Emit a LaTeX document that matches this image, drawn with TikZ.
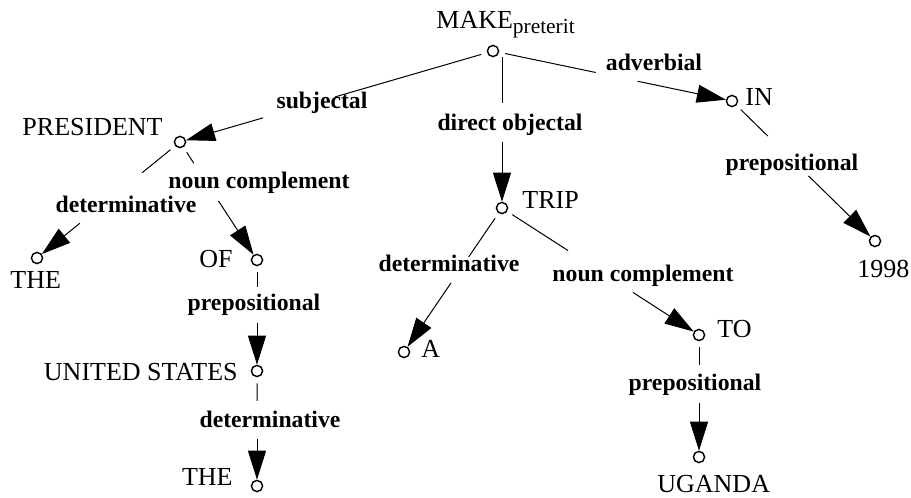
\documentclass[tikz,border=0pt]{standalone}
\usepackage{fontspec}
\setmainfont{Liberation Serif}
\usetikzlibrary{arrows.meta,calc}
\tikzset{
  vtx/.style={circle,draw,line width=0.7pt,minimum size=5.6pt,inner sep=0pt},
  word/.style={font=\fontsize{13}{15}\selectfont,inner sep=0pt},
  rel/.style={font=\fontsize{11.85}{14}\selectfont\bfseries,inner sep=0pt,anchor=base},
  edgeline/.style={line width=0.5pt},
  arrowline/.style={line width=0.5pt,-{Triangle[length=14.5pt,width=9pt]}},
}
\newcommand\depedge[4]{%
  \draw[edgeline,shorten <=3pt] (#1) -- ($(#1)!#3!(#2)$);
  \draw[arrowline] ($(#1)!#4!(#2)$) -- (#2);}
\begin{document}
\begin{tikzpicture}[x=0.5pt,y=-0.5pt]
\useasboundingbox (0,0) rectangle (911,498);
% vertices
\node[vtx] (make) at (493,51) {};
\node[vtx] (pres) at (180,142) {};
\node[vtx] (in) at (732,101) {};
\node[vtx] (trip) at (502,208) {};
\node[vtx] (the1) at (37,258) {};
\node[vtx] (of) at (257,260) {};
\node[vtx] (us) at (257,371) {};
\node[vtx] (the2) at (257,486) {};
\node[vtx] (a) at (404,352) {};
\node[vtx] (to) at (699,335) {};
\node[vtx] (uganda) at (699,457) {};
\node[vtx] (y1998) at (875,241) {};
% words
\node[word,anchor=base west] (tMake) at (436,28) {MAKE\raisebox{-2.5pt}{\fontsize{10.7}{12}\selectfont preterit}};
\node[word,anchor=base east] (tPres) at (163,135) {PRESIDENT};
\node[word,anchor=base west] (tIn) at (745,105) {IN};
\node[word,anchor=base west] (tTrip) at (522,208) {TRIP};
\node[word,anchor=base west] (tThe1) at (10,288) {THE};
\node[word,anchor=base east] (tOf) at (233,267) {OF};
\node[word,anchor=base east] (tUs) at (238,380) {UNITED STATES};
\node[word,anchor=base east] (tThe2) at (233,485) {THE};
\node[word,anchor=base west] (tA) at (421,357) {A};
\node[word,anchor=base west] (tTo) at (717,337) {TO};
\node[word,anchor=base west] (tUganda) at (657,492) {UGANDA};
\node[word,anchor=base west] (t1998) at (857,277) {1998};
% edges
\coordinate (makeDown) at (make -| trip);
\depedge{make}{pres}{0.505}{0.735}
\depedge{makeDown}{trip}{0.33}{0.58}
\depedge{make}{in}{0.43}{0.605}
\depedge{in}{y1998}{0.25}{0.535}
\depedge{pres}{the1}{0.265}{0.70}
\depedge{pres}{of}{0.18}{0.50}
\depedge{of}{us}{0.245}{0.57}
\depedge{us}{the2}{0.26}{0.59}
\depedge{trip}{a}{0.34}{0.52}
\depedge{trip}{to}{0.335}{0.665}
\depedge{to}{uganda}{0.245}{0.557}
% relation labels
\node[rel] (r1) at (322,108) {subjectal};
\node[rel] (r2) at (510,130) {direct objectal};
\node[rel] (r3) at (654,70) {adverbial};
\node[rel] (r4) at (792,170) {prepositional};
\node[rel] (r5) at (259,188) {noun complement};
\node[rel] (r6) at (126,212) {determinative};
\node[rel] (r7) at (254,310) {prepositional};
\node[rel] (r8) at (270,427) {determinative};
\node[rel] (r9) at (449,271) {determinative};
\node[rel] (r10) at (643,281) {noun complement};
\node[rel] (r11) at (695,390) {prepositional};
\end{tikzpicture}
\end{document}
